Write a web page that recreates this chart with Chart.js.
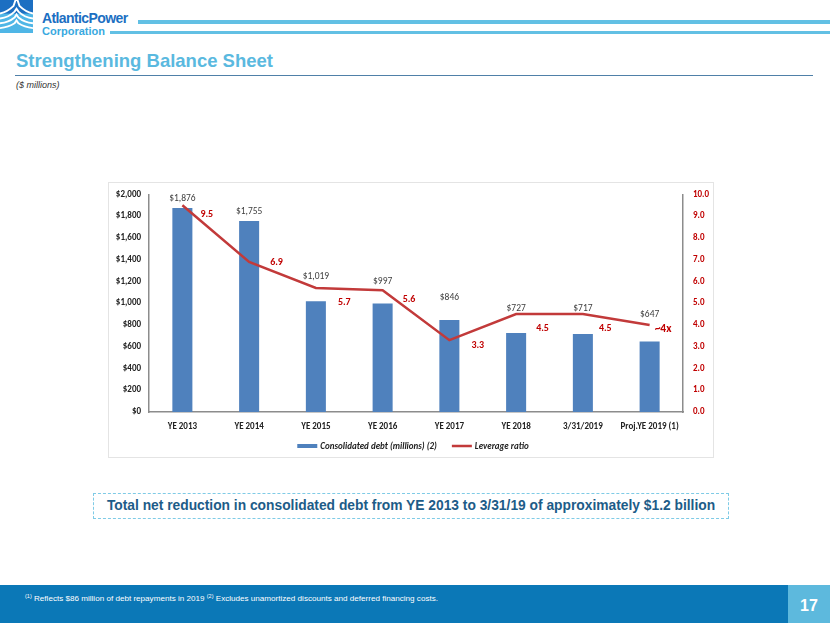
<!DOCTYPE html>
<html>
<head>
<meta charset="utf-8">
<script src="https://cdn.jsdelivr.net/npm/chart.js@4/dist/chart.umd.min.js"></script>
<style>
  html,body{margin:0;padding:0;background:#fff;}
  body{width:830px;height:623px;position:relative;overflow:hidden;font-family:"Liberation Sans",Arial,sans-serif;}
  .abs{position:absolute;}
  #logoText1{left:42px;top:11px;font-size:14px;font-weight:bold;color:#1c6fc2;letter-spacing:-0.6px;line-height:15px;}
  #logoText2{left:42px;top:25px;font-size:11px;font-weight:bold;color:#39a9e0;line-height:12px;}
  #bar1{left:138px;top:20px;width:692px;height:4px;background:#62c0e4;}
  #bar2{left:110px;top:31px;width:720px;height:3px;background:#62c0e4;}
  #title{left:16px;top:50px;font-size:18.5px;font-weight:bold;color:#5ab9df;line-height:22px;}
  #rule{left:15px;top:75px;width:798px;height:1px;background:#4f80a8;}
  #sub{left:16px;top:80px;font-size:9px;font-style:italic;color:#333;}
  #frame{left:108px;top:182px;width:604px;height:274px;border:1px solid #e4e4e4;}
  #chartWrap{left:108px;top:179px;width:605px;height:280px;}
  #box{left:93px;top:493px;width:634px;height:24px;border:1px dashed #7fcbe6;}
  #boxText{left:93px;top:493px;width:636px;height:26px;line-height:26px;text-align:center;font-size:13.8px;font-weight:bold;color:#1d5c88;}
  #footer{left:0;top:585px;width:788px;height:38px;background:#0b78b7;}
  #footText{left:25px;top:593px;font-size:8.1px;color:#fff;white-space:nowrap;}
  #footText sup{font-size:5.5px;vertical-align:3px;}
  #pageBox{left:788px;top:585px;width:42px;height:38px;background:#5db9dd;}
  #pageNum{left:788px;top:585px;width:42px;height:42px;line-height:42px;text-align:center;color:#fff;font-weight:bold;font-size:16px;}
</style>
</head>
<body>
<svg class="abs" style="left:0;top:0" width="33" height="33" viewBox="0 0 34 34">
  <rect x="0" y="0" width="34" height="34" fill="#1c6fc2"/>
  <rect x="0" y="14" width="34" height="20" fill="#4fb6e6"/>
  <path d="M0 14 Q8 12 14 6 L16 0 L18 0 L20 6 Q26 12 34 14" fill="none" stroke="#fff" stroke-width="2"/>
  <path d="M0 19 Q9 18 15 12 L17 9 L19 12 Q25 18 34 19" fill="none" stroke="#fff" stroke-width="2"/>
  <path d="M0 24 Q9 23 15 18 L17 15 L19 18 Q25 23 34 24" fill="none" stroke="#fff" stroke-width="2"/>
  <path d="M0 29 Q9 28 15 24 L17 21 L19 24 Q25 28 34 29" fill="none" stroke="#fff" stroke-width="2"/>
</svg>
<div id="logoText1" class="abs">AtlanticPower</div>
<div id="logoText2" class="abs">Corporation</div>
<div id="bar1" class="abs"></div>
<div id="bar2" class="abs"></div>
<div id="title" class="abs">Strengthening Balance Sheet</div>
<div id="rule" class="abs"></div>
<div id="sub" class="abs">($ millions)</div>
<div id="frame" class="abs"></div>
<div id="chartWrap" class="abs"><canvas id="c" width="605" height="280"></canvas></div>
<div id="box" class="abs"></div>
<div id="boxText" class="abs">Total net reduction in consolidated debt from YE 2013 to 3/31/19 of approximately $1.2 billion</div>
<div id="footer" class="abs"></div>
<div id="footText" class="abs"><sup>(1)</sup> Reflects $86 million of debt repayments in 2019 <sup>(2)</sup> Excludes unamortized discounts and deferred financing costs.</div>
<div id="pageBox" class="abs"></div>
<div id="pageNum" class="abs">17</div>

<script>
// ---- data ----
const categories = ['YE 2013','YE 2014','YE 2015','YE 2016','YE 2017','YE 2018','3/31/2019','Proj.YE 2019 (1)'];
const debtValues = [1876, 1755, 1019, 997, 846, 727, 717, 647];
const debtLabels = ['$1,876','$1,755','$1,019','$997','$846','$727','$717','$647'];
const leverageValues = [9.5, 6.9, 5.7, 5.6, 3.3, 4.5, 4.5, 4.0];
const leverageLabels = ['9.5','6.9','5.7','5.6','3.3','4.5','4.5','~4x'];
const debtTicks = [0,200,400,600,800,1000,1200,1400,1600,1800,2000];
const leverageTicks = [0,1,2,3,4,5,6,7,8,9,10];

const FONT = 'Carlito, Lato, sans-serif';
const BLUE = '#4f81bd';
const RED = '#c23a3a';
const LRED = '#c00000';

const labelPlugin = {
  id: 'valueLabels',
  afterDatasetsDraw(chart, args, opts) {
    const ctx = chart.ctx;
    ctx.save();
    const barMeta = chart.getDatasetMeta(0);
    ctx.font = '9.5px ' + FONT;
    ctx.fillStyle = '#404040';
    ctx.textAlign = 'center';
    ctx.textBaseline = 'middle';
    barMeta.data.forEach((el, i) => {
      ctx.fillText(debtLabels[i], el.x, el.y - opts.barLift[i]);
    });
    const lineMeta = chart.getDatasetMeta(1);
    ctx.fillStyle = LRED;
    ctx.textAlign = 'left';
    lineMeta.data.forEach((el, i) => {
      const o = opts.lineOffset[i];
      ctx.font = 'bold ' + (i === lineMeta.data.length - 1 ? 11.5 : 10) + 'px ' + FONT;
      ctx.fillText(leverageLabels[i], el.x + o[0], el.y + o[1]);
    });
    ctx.restore();
  }
};

// legend drawn below the plot, from the datasets' own labels/colours
const legendPlugin = {
  id: 'bottomLegend',
  afterDraw(chart, args, opts) {
    const ctx = chart.ctx;
    const ds = chart.data.datasets;
    ctx.save();
    ctx.font = 'italic bold 9px ' + FONT;
    ctx.textBaseline = 'middle';
    ctx.textAlign = 'left';
    const sw = 20, gapText = 3, gapItem = 15;
    const widths = ds.map(d => sw + gapText + ctx.measureText(d.label).width);
    const total = widths.reduce((a, b) => a + b, 0) + gapItem * (ds.length - 1);
    let x = (chart.chartArea.left + chart.chartArea.right) / 2 - 3 - total / 2;
    const y = chart.chartArea.bottom + opts.offset;
    ds.forEach((d, i) => {
      ctx.fillStyle = d.type === 'bar' ? d.backgroundColor : d.borderColor;
      if (d.type === 'bar') ctx.fillRect(x, y - 2, sw, 4);
      else ctx.fillRect(x, y - 1.25, sw, 2.5);
      ctx.fillStyle = '#222';
      ctx.fillText(d.label, x + sw + gapText, y + 0.5);
      x += widths[i] + gapItem;
    });
    ctx.restore();
  }
};

const axisFont = {family: FONT, size: 9, weight: 'bold'};

new Chart(document.getElementById('c'), {
  data: {
    labels: categories,
    datasets: [
      {
        type: 'bar',
        label: 'Consolidated debt (millions) (2)',
        data: debtValues,
        backgroundColor: BLUE,
        borderColor: BLUE,
        borderWidth: 0,
        categoryPercentage: 1.0,
        barPercentage: 0.3,
        yAxisID: 'y',
        order: 1
      },
      {
        type: 'line',
        label: 'Leverage ratio',
        data: leverageValues,
        borderColor: RED,
        backgroundColor: RED,
        borderWidth: 2.5,
        pointRadius: 0,
        tension: 0,
        yAxisID: 'y1',
        order: 0
      }
    ]
  },
  options: {
    responsive: false,
    animation: false,
    events: [],
    layout: {padding: {left: 0, right: 0, top: 5, bottom: 24}},
    scales: {
      x: {
        grid: {display: false, drawTicks: false},
        border: {display: true, color: '#8c8c8c', width: 1.5},
        ticks: {font: axisFont, color: '#222', padding: 9, maxRotation: 0, autoSkip: false},
        afterFit(s) { s.height = 23; }
      },
      y: {
        position: 'left',
        min: 0, max: 2000,
        afterBuildTicks(s) { s.ticks = debtTicks.map(v => ({value: v})); },
        grid: {display: false, drawTicks: false},
        border: {display: true, color: '#8c8c8c', width: 1.5},
        ticks: {font: axisFont, color: '#222', padding: 8,
          callback: v => '$' + Number(v).toLocaleString('en-US')},
        afterFit(s) { s.width = 41; }
      },
      y1: {
        position: 'right',
        min: 0, max: 10,
        afterBuildTicks(s) { s.ticks = leverageTicks.map(v => ({value: v})); },
        grid: {display: false, drawTicks: false},
        border: {display: true, color: '#8c8c8c', width: 1.5},
        ticks: {font: axisFont, color: LRED, padding: 10,
          callback: v => Number(v).toFixed(1)},
        afterFit(s) { s.width = 30; }
      }
    },
    plugins: {
      tooltip: {enabled: false},
      legend: {display: false},
      bottomLegend: {offset: 34},
      valueLabels: {
        barLift: [9, 9, 25, 22, 22, 24, 25, 27],
        lineOffset: [[18, 9], [21, 1], [22, 15], [20, 9], [22, 5], [20, 14], [16, 14], [5, 4]]
      }
    }
  },
  plugins: [labelPlugin, legendPlugin]
});
</script>
</body>
</html>
